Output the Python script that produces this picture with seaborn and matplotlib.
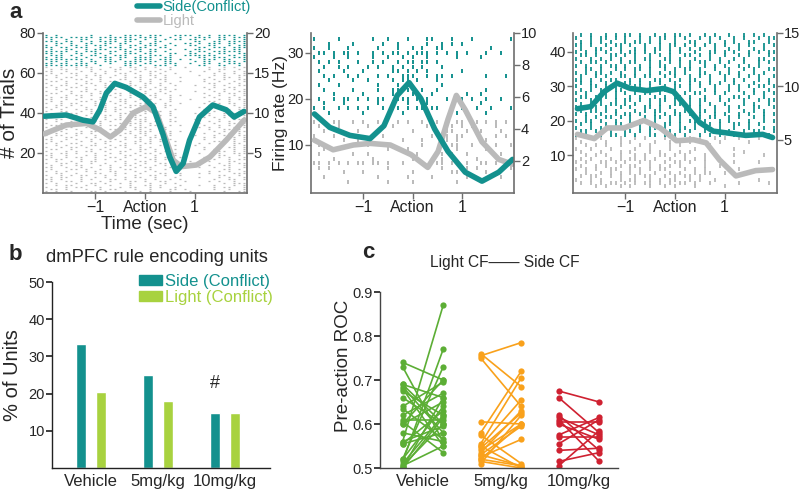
import numpy as np
import pandas as pd
import seaborn as sns
import matplotlib.pyplot as plt
from matplotlib.lines import Line2D
from matplotlib.patches import Patch

sns.set_theme(style="ticks")
plt.rcParams['font.family'] = ['Liberation Sans', 'DejaVu Sans']

TEAL = "#13918e"
LIME = "#a8d23f"
GRAY = "#bababa"
AX_GRAY = "#6e6e6e"

# ---------------- panel a data ----------------
# firing-rate curves (time in sec, rate in Hz)
a1_side_t = [-2.03, -1.59, -1.25, -1.05, -0.91, -0.78, -0.61, -0.38, -0.04, 0.16, 0.36, 0.50, 0.63, 0.77, 0.90, 1.10, 1.37, 1.64, 1.80, 2.00]
a1_side_hz = [9.6, 9.75, 9.1, 8.9, 10.4, 12.5, 13.7, 13.2, 12.0, 10.8, 7.4, 4.5, 2.7, 3.7, 6.6, 9.5, 11.0, 10.4, 9.5, 10.2]
a1_light_t = [-2.03, -1.59, -1.18, -0.91, -0.70, -0.50, -0.24, 0.03, 0.23, 0.43, 0.57, 0.74, 1.04, 1.31, 1.64, 2.00]
a1_light_hz = [7.4, 8.5, 8.7, 7.9, 7.0, 7.9, 10.0, 10.8, 10.0, 6.6, 4.1, 3.3, 3.5, 4.5, 6.6, 9.1]

a2_side_t = [-1.99, -1.68, -1.27, -0.86, -0.58, -0.31, -0.07, 0.17, 0.45, 0.72, 1.07, 1.41, 1.75, 2.03]
a2_side_hz = [4.94, 4.1, 3.6, 3.4, 4.2, 6.1, 6.9, 5.9, 4.0, 2.6, 1.3, 0.74, 1.3, 2.1]
a2_light_t = [-1.99, -1.61, -1.20, -0.86, -0.45, -0.03, 0.31, 0.52, 0.72, 0.89, 1.07, 1.41, 1.75, 2.03]
a2_light_hz = [3.3, 2.7, 3.0, 3.1, 3.0, 2.4, 1.6, 2.6, 4.6, 6.1, 5.2, 3.2, 2.1, 1.8]

a3_side_t = [-1.97, -1.70, -1.43, -1.17, -0.90, -0.57, -0.23, -0.03, 0.23, 0.50, 0.77, 1.10, 1.43, 1.77, 1.97]
a3_side_hz = [7.9, 8.1, 9.5, 10.3, 9.8, 9.6, 9.8, 9.5, 8.1, 6.6, 5.8, 5.6, 5.4, 5.5, 5.2]
a3_light_t = [-1.97, -1.63, -1.37, -1.03, -0.63, -0.30, 0.03, 0.37, 0.63, 0.90, 1.23, 1.63, 1.97]
a3_light_hz = [5.5, 5.1, 6.1, 6.1, 6.8, 6.1, 4.9, 5.0, 4.7, 3.1, 1.6, 2.1, 2.2]

# spike rasters: one string per trial (bottom trial first), 0.1 s bins from -2 to 2, '|' = spike
a1_light_rows = [
    "|.|..|...||.|...|..|.|...|...|......|..||",
    ".||.|...|..|.||...|..|...||.|.....|..|..|",
    "|...|.||...|...|.||..|.|..|.......|.||..|",
    "..|.||..|.|..|...|..||.|...|...|..|...|.|",
    "|.|...|..||.|..|.|...|..|.|.........|.|||",
    ".|..||.|...|.|...||.|..||...|....|.|..|..",
    "||.|...|.|...||.|...|.|..|.|......|..||.|",
    ".|.||..|..|.|...|.||..|...|....|...|.|..|",
    "|..|.|.||...|.|...|..||.|..|.......||..|.",
    "..||..|...||..|.|..|...||..|...|.|....|||",
    "|.|.|...|.|..||...|.|.|...|......|.|.|..|",
    ".|...||.|..|.|..||...|..|.||........||.|.",
    "||..|..|.|...|.|..|.||...|.....|..|..|..|",
    ".|.|..||...|.|..||.|..|.|......|.|..||..|",
    "|..||.|..|..|...|.|.|..||..|.......|.|.||",
    "..|..|.|.||...|.|..||.|...|..|...|...||..",
    "|.||...|..|.|..|..|..||.|.........|..|.||",
    ".|..|.||..|..||.|...|.|.|..|....|..|.|..|",
    "||..|...|.|.|...||.|..|...|......|.||..|.",
    ".|.||.|...|..|.|..|.||.|..|....|...|..|||",
    "|...|.|.||..|..||..|..|.|...|......||.|.|",
    ".||..|...|.|.|...|.||.|..||.....|.|...|.|",
    "|..|.||.|...|.|.|..|.|..|.......|..|.||.|",
    "..|.|..|.||..|.||..|...||.|...|....|..|.|",
    "|.|..||...|.|...|.|.||..|......|.|..|.||.",
    ".|.|...|.|..||.|..||.|.|..|.......||..|.|",
    "||..|.|..|.|..|.|..|.|.|.|...|..|...|.|.|",
    ".|..||..|.|..|..|.||.||.|.......|.|..||.|",
    "|.||..|...|.|.||..|.|.|..|....|...|.|..||",
    "..|.|.||.|..|...||.||..|.|......|..|.|.|.",
    "|..|...|.||.|.|..|.|||.|.|.|......|.|..||",
    ".|.||.|...|..||.|.||.|..|.....|..|..||.|.",
    "|.|..|..||.|...||.|||..||......|.|.|..|.|",
    ".||.|..|...|.||..|.|.||..|.|....|..|.|..|",
    "|..|.||..|.|...|.|||.|.|.......|..|..||.|",
    "..|..|.|..||.|..||.||.|..||......|.|.|..|",
    "|.||...|.|..|.||..|||..|.|....|....|..|||",
    ".|..|.|..||.|..|.||.|.|...|.....|.|.|.|.|",
    "||.|..|.|...||.|.|||..||.|.......|..||..|",
    ".|.|.||..|.|...||.|.|.|..|....|..|..|.|.|",
    "|..||..|.|..|.|..||.||.|.|......|.|.|..||",
    ".|.|..|.||..|.||..|||.|...|.....|...||.|.",
    "|.|.|...|..||.|.||.|.||.|......|..|.|..||",
    "..||.|.|..|.|..|.|||.|..||.......|.|..|.|",
    "|..|.||...|.|.|.|..||.|.|..|....|..|.||.|",
    ".|.|...||.|..|.||.|.||...|.......||..|..|",
    "||..|.|..|.|...||..|.|.|.|...|.....|.|.||",
    ".|.||..|...||.|..|.||.|..|......|.|..|.|.",
    "|...|.||.|...|.|.|.|.||..|.|.....|.|..|.|",
    ".||..|...|.|..||.|..|.|.|.......|..|.||.|",
    "|..|.|.||..|.|...||.|..|.|....|...|.|..||",
    "..|.|...|.|..||.|..|.|.||.|......|..|.|.|",
    "|.|..||.|...|..|.|.||.|.|.......|.|..||..",
    ".|.||..|..|.|.|..||.|..|..|...|...|.|..||",
    "|...|.|.||..|..|.|..||.|.|.......||..|.|.",
    ".||.|...|..|.||..|.|.|..|..|....|..|..|.|",
    "|..|..||.|.|...||..|.|.||.......|.|.|..||",
    "..|.||..|..|.|..|.||..|.|..|.....|..||.|.",
    "|.|...|.|.||..|.|..|.||.|......|..|.|..||",
    ".|.|.||...|.|..||.|..|.|..|.......|.|.|.|",
    "||..|..|.|..|.|..|.|.||.|....|..|..|..|.|",
    ".|.||.|..|.|..||..|.|..|.|.......|.||..|.",
    "|..|..|.||...|.|.||.|.|..|..|....|..|.|.|",
]
a1_side_rows = [
    "|||||||||..|....||.|..|||.|....||..||..|.",
    "||.||.|||.|..|..|||.||..|||..|..||.|.|||.",
    ".||.|..|.||.|||.||||.||.||....|.||..|||.|",
    "||||||||.|..||.|..||||.|||.|.|..|||.||..|",
    "|.||..|.|..|||.||.||||..||.....||.|||.|||",
    ".|||.|.|.||.|.|||..|.|||.|..|||||||..||.|",
    "||.|..||..||.|..|||.||...||..||..|.||..||",
    "|||||.|.|||..||.||.|.||.|....|.||.||||||.",
    ".|..||..|.|||..||.||.||..|..|.||.|..|.||.",
    "||.||.|||..|.|||.|.||..||......||.|||.|||",
    "|.|..||.|.|||..|.||.|||.|.|..||..||..|.||",
    "..||.|..||..||.||..|.||..|..||.|.|||.||.|",
    "|||.||.|.|.||||.||.|..||......||..||.||||",
    ".|..|..||..|.||.|||.|.|.|.||.||.|..||.|.|",
    "||||.|||||.|||||||.||||..|.|..||||.||.|||",
    "|.|......|...|..||||.|||..||||.|.|.||||.|",
]
a2_light_rows = [
    ".......|.......|....|........|...........",
    "..|..........|.....|....|......|......|..",
    "......|...|.........|.......||.....|.....",
    ".|.|...........|..........|....|.|......|",
    "||.|.|.|.||.||.|..|...|..||.|..|..||.|..",
    "....|.......|.......|.....|......|.......",
    ".|......|..|.........|...||.|..|......|..",
    "..|..|.........|...|.......|.|.....|.....",
    ".|.........|...|......|.....||..|....|..|",
    "......|..|........|...|....|.|.....|.....",
    "|...|.........|.........|..|.||......|.|.",
    "..|......|...|......|......||..|..|...|..",
    ".|...|.....|....|......|....|.|.|....|...",
    "|.|.||..|.|..|...|.|..|.||...||.||.|.|.|.",
]
a2_side_rows = [
    "...|......|.......|..........|.....|.....",
    "|.|..|.|.|.|..|.||.|.||.||..|.|..|..|...|",
    "..|...|......|.....|...|..........|......",
    ".|..|.||.|.|.||..|||.|.|...|..|.|..|..|..",
    "....|.....|.....|...|...|......|..|......",
    "..|.....|....|..||.|..|..|.........|.....",
    ".|...|.......|...|.|......|..............",
    "...|....|..|....|.||.|...|...............",
    "..|.|..|.|...|.|..|||..|.||.|......|...|.",
    ".|....|...|.....||.|.|.|......|.........",
    "..|..|.|...|.|..|.|.|.|...|..............",
    ".|.|.|...|..|.|..|.||.||.|...............|",
    "|...|..|....|..|..|.|..|.....|....|......",
    ".||.|.||.|..|.|.||.|.|||.|.|.|.|...|..|..",
    "|..|...|.....|...|..|.|..||.........|....",
    "...|....|.....|..|.....|..|.|.|.........",
    "|....|......|..|...|...||...|...|.......||",
]
a3_light_rows = [
    "....|.|..|.|...|..|.|...|.....|.........",
    ".|.|.|.||.|.|.||.|.|.||.|..|.....|.....|.",
    "|..|.|...|.||..|.|.||..|.|..|........|...",
    ".|.||..|.|..|.||..|.|.||.|...............",
    "..|..|.|.|.|.|..|..|.|..|.||..|....|.....",
    "|.|.|..||..|.|.|.||...|.|.|......|.......",
    ".|..|.|..|.||..|.|.|.|....|..|...........",
    "|.|..||.|.|..|.|..|.||.|..|.....|....|...",
    ".|.|...|.|.||.|.|..|..|.|.|..|...........",
    "..|.|.|..|..|.|..||.|.|...|.....|.....|..",
    ".|...|...|.|...|.|...|.|..........|......",
    "|..|...|....|..|...|....|..|....|........",
    "..|.|.|..|...|.|...|.|.....|.............",
    ".|....|..|.|....|..|...|.|...|.....|.....",
    "|..|.|...|..|.|...|.|..|.|..|.|..|...|...",
]
a3_side_rows = [
    "|.|..|.||.|.|..||.|.|.|..|.|.|..|.|.|..|.",
    ".||.|..|..||.|.|..||.|.|..|..|.|..|.||..|",
    "|..|.||.|.|..|.||.|..||.|.|..|..|..|..|.|",
    ".|.|..|.||.|.|..|.||.|..|..|.|..||.|.|...",
    "|.||.|..|..|.||.|..|.|.||.|..|.|...|..|.|",
    "..|.|.||.|.|..|.||.|.|...|.||..|.|..|.|..",
    "|.|..|..|.||.|..|.|.||.|.|..|.|..|.|..|.|",
    ".|.||.|.|...|.|.||..|.|..||.|..|..|.|.|..",
    "||..|.|..|.|..||.|.|..||.|..|..|.|..||..|",
    ".|.|.|.||.|.|..|.|..||.|.|.|..|...|.|..|.",
    "|..|.|..|.||.|.|.||.|..|.||..|.|..|..|.||",
    ".||.|.|.|..|.|..|.|.||.|..|..|..||.|..|..",
    "|.|..||.|.|.|.||.|..|.|.||..|.|...|.|.|.|",
    ".|.|.|..||..|..|.||.|..|..|.|..|.|..|..|.",
    "|..||.|.|.|.||.|..|.||.|.|..|..|.|.|.||.|",
    ".|.|..|.|.||.|.|.|..|..|.|.|.|..|...|..|.",
    "||.|.|.||..|.|..||.|.|.||..|..|.|.|..|.|.",
    ".|..|.|..||.|.||..|.|..|.|.|..|..|.|.|..|",
    "|.|.||.|.|..|..|.|.||.|..||..|.|.|..|.|..",
    "..||.|..|.|.||.|..|.|.||.|..|..|..|.|..||",
    "|.|..|.||.|..|.|.||..|.|..|.|.|..|.|.|...",
    ".|.||.|..|.||..|.|.|.|.|.||..|.|..|..|.|.",
    "|..|.|.|.|..|.||..||.|..|..|.|..|.|..||.|",
    ".||.|..||.|.|..|.|.|..||.|.|..|..|.|...|.",
    "|.|.|.|..|.||.|.|..|.|..|..||.|.|..|.|.||",
    ".|..||.|.|..|.|.||.|.|.|.|..|..|.|..|.|..",
    "||.|..|.||.|..|..|.||.|.|.|.|.|..|.|..|.|",
    ".|.|.|.|..|.||.|.|..|..||..|..|.|..||..|.",
    "|..|.||.|.|..|.|.||.|.|..|.|.|..|.|..|.||",
    ".|.|..|.|.||.|..|.|.||.|..|.|..|..|.|.|..",
]

# ---------------- panel b data ----------------
b_doses = ["Vehicle", "5mg/kg", "10mg/kg"]
b_side = [33.3, 25.0, 14.8]
b_light = [20.5, 18.0, 14.8]

# ---------------- panel c data ----------------
c_doses = ["Vehicle", "5mg/kg", "10mg/kg"]
veh_light = [0.74, 0.73, 0.69, 0.685, 0.68, 0.675, 0.66, 0.64, 0.635, 0.62, 0.61, 0.605, 0.60, 0.60,
             0.56, 0.555, 0.56, 0.555, 0.52, 0.515, 0.51, 0.505, 0.50, 0.50, 0.505, 0.69, 0.58, 0.52]
veh_side = [0.70, 0.56, 0.66, 0.58, 0.55, 0.62, 0.60, 0.695, 0.565, 0.67, 0.61, 0.535, 0.65, 0.70,
            0.87, 0.63, 0.595, 0.58, 0.73, 0.77, 0.62, 0.60, 0.66, 0.615, 0.55, 0.60, 0.56, 0.64]
mg5_light = [0.755, 0.76, 0.75, 0.605, 0.58, 0.575, 0.555, 0.55, 0.545, 0.54, 0.535, 0.53, 0.525,
             0.52, 0.515, 0.51, 0.52, 0.53, 0.55]
mg5_side = [0.785, 0.685, 0.64, 0.60, 0.72, 0.51, 0.705, 0.655, 0.625, 0.60, 0.63, 0.595, 0.565,
            0.505, 0.50, 0.62, 0.60, 0.505, 0.50]
mg10_light = [0.675, 0.66, 0.62, 0.615, 0.61, 0.605, 0.60, 0.575, 0.57, 0.555, 0.54, 0.515, 0.505]
mg10_side = [0.65, 0.58, 0.54, 0.575, 0.515, 0.605, 0.565, 0.615, 0.57, 0.61, 0.545, 0.535, 0.585]
c_colors = ["#5cae35", "#f9a11b", "#cf2131"]


def raster_df(rows, first_trial):
    ts, ys = [], []
    for k, row in enumerate(rows):
        for i, ch in enumerate(row):
            if ch == "|":
                ts.append(-2.0 + 0.1 * i)
                ys.append(first_trial + k)
    return pd.DataFrame({"t": ts, "trial": ys})


def style_spines(ax, color):
    ax.spines["top"].set_visible(False)
    for side in ["left", "bottom", "right"]:
        ax.spines[side].set_color(color)
        ax.spines[side].set_linewidth(1.2)


fig = plt.figure(figsize=(8, 4.9), dpi=100)


def raster_panel(rect, light_rows, light_start, side_rows, side_start, ylim_l, yticks_l,
                 ylim_r, yticks_r, light_curve, side_curve, marker, msize, mlw):
    ax = fig.add_axes(rect)
    g = raster_df(light_rows, light_start)
    s = raster_df(side_rows, side_start)
    sns.scatterplot(data=g, x="t", y="trial", ax=ax, color=GRAY, marker=marker, s=msize, linewidth=mlw)
    sns.scatterplot(data=s, x="t", y="trial", ax=ax, color=TEAL, marker=marker, s=msize, linewidth=mlw)
    ax.set_xlim(-2.06, 2.06)
    ax.set_ylim(*ylim_l)
    ax.set_yticks(yticks_l)
    ax.set_xticks([-1, 0, 1], ["\u22121", "Action", "1"])
    ax.set_xlabel("")
    ax.set_ylabel("")
    style_spines(ax, AX_GRAY)
    ax.spines["right"].set_visible(False)

    ax2 = ax.twinx()
    sns.lineplot(x=light_curve[0], y=light_curve[1], ax=ax2, color=GRAY, lw=4, solid_capstyle="round")
    sns.lineplot(x=side_curve[0], y=side_curve[1], ax=ax2, color=TEAL, lw=4, solid_capstyle="round")
    ax2.set_ylim(*ylim_r)
    ax2.set_yticks(yticks_r)
    style_spines(ax2, AX_GRAY)
    ax2.spines["left"].set_visible(False)
    ax2.spines["bottom"].set_visible(False)
    for a in (ax, ax2):
        a.tick_params(direction="out", length=4, width=1, color=AX_GRAY, labelsize=10.5, pad=1,
                      labelcolor="#222222")
        a.tick_params(axis="x", labelsize=11.5)
    return ax, ax2


ax1, ax1r = raster_panel([43 / 800, 297 / 490, 204 / 800, 160 / 490],
                         a1_light_rows, 1, a1_side_rows, 64, (0, 80), [20, 40, 60, 80],
                         (0, 20), [5, 10, 15, 20], (a1_light_t, a1_light_hz), (a1_side_t, a1_side_hz),
                         "_", 4, 0.9)
ax1.set_ylabel("# of Trials", fontsize=15, ha="center", va="center")
ax1.yaxis.set_label_coords((10 - 43) / 204, 0.5)
ax1.set_xlabel("Time (sec)", fontsize=13.5, labelpad=1)
ax1r.set_ylabel("Firing rate (Hz)", fontsize=12.5, ha="center", va="center")
ax1r.yaxis.set_label_coords((280 - 43) / 204, 0.5)

ax2, ax2r = raster_panel([311 / 800, 297 / 490, 203 / 800, 160 / 490],
                         a2_light_rows, 2, a2_side_rows, 17, (-0.5, 34.3), [10, 20, 30],
                         (0, 10), [2, 4, 6, 8, 10], (a2_light_t, a2_light_hz), (a2_side_t, a2_side_hz),
                         "|", 10, 1.4)

ax3, ax3r = raster_panel([573 / 800, 297 / 490, 204 / 800, 160 / 490],
                         a3_light_rows, 1, a3_side_rows, 16, (-0.9, 45.5), [10, 20, 30, 40],
                         (0, 15), [5, 10, 15], (a3_light_t, a3_light_hz), (a3_side_t, a3_side_hz),
                         "|", 6, 1.3)

fig.legend(handles=[Line2D([], [], color=TEAL, lw=4), Line2D([], [], color=GRAY, lw=4)],
           labels=["Side(Conflict)", "Light"], loc="upper left",
           bbox_to_anchor=(137 / 800, 1.0), frameon=False, fontsize=10.5,
           handlelength=1.6, handletextpad=0.15, labelspacing=0.0,
           labelcolor=[TEAL, GRAY], borderpad=0, borderaxespad=0)

# ---------------- panel b ----------------
axb = fig.add_axes([52 / 800, 22 / 490, 218 / 800, 186 / 490])
df_b = pd.DataFrame({
    "dose": b_doses * 2,
    "rule": ["Side (Conflict)"] * 3 + ["Light (Conflict)"] * 3,
    "pct": b_side + b_light,
})
sns.barplot(data=df_b, x="dose", y="pct", hue="rule", palette=[TEAL, LIME], width=0.6, gap=0.5,
            ax=axb, legend=False, saturation=1)
axb.set_xlim(-0.585, 2.68)
axb.set_ylim(0, 50)
axb.set_yticks([10, 20, 30, 40, 50])
axb.set_xlabel("")
axb.set_ylabel("% of Units", fontsize=14.5, ha="center", va="center")
axb.yaxis.set_label_coords((13 - 52) / 218, 0.5)
axb.spines[["top", "right"]].set_visible(False)
for side in ["left", "bottom"]:
    axb.spines[side].set_color("#222222")
    axb.spines[side].set_linewidth(1)
axb.tick_params(axis="y", direction="out", length=4, labelsize=10.5, pad=1)
axb.tick_params(axis="x", length=0, labelsize=12, pad=4)
axb.text(1.85, 22.8, "#", fontsize=13, ha="center", va="center")
axb.legend(handles=[Patch(color=TEAL), Patch(color=LIME)],
           labels=["Side (Conflict)", "Light (Conflict)"], loc="upper left",
           bbox_to_anchor=(139 / 800, 1 - 274 / 490), bbox_transform=fig.transFigure,
           frameon=False, fontsize=12, handlelength=1.4, handleheight=0.55, handletextpad=0.15,
           labelspacing=0.05, labelcolor=[TEAL, LIME], borderpad=0, borderaxespad=0)
fig.text(157 / 800, 1 - 258 / 490, "dmPFC rule encoding units", fontsize=13.2, ha="center", va="center")

# ---------------- panel c ----------------
axc = fig.add_axes([380 / 800, 22 / 490, 238 / 800, 176 / 490])
pairs = [(veh_light, veh_side), (mg5_light, mg5_side), (mg10_light, mg10_side)]
records = []
pid = 0
for g, (lt, sd) in enumerate(pairs):
    for a, b in zip(lt, sd):
        records.append({"dose": c_doses[g], "pair": pid, "x": g - 0.26, "roc": a})
        records.append({"dose": c_doses[g], "pair": pid, "x": g + 0.26, "roc": b})
        pid += 1
df_c = pd.DataFrame(records)
sns.lineplot(data=df_c, x="x", y="roc", hue="dose", units="pair", estimator=None,
             palette=c_colors, marker="o", markersize=4.5, markeredgewidth=0, linewidth=1.2,
             legend=False, sort=False, ax=axc)
axc.set_xlim(-0.55, 2.5)
axc.set_ylim(0.5, 0.9)
axc.set_yticks([0.5, 0.6, 0.7, 0.8, 0.9])
axc.set_xticks([0, 1, 2], c_doses)
axc.set_xlabel("")
axc.set_ylabel("Pre-action ROC", fontsize=13.5, ha="center", va="center")
axc.yaxis.set_label_coords((344 - 380) / 238, 0.58)
axc.spines[["top", "right"]].set_visible(False)
for side in ["left", "bottom"]:
    axc.spines[side].set_color("#444444")
    axc.spines[side].set_linewidth(1)
axc.tick_params(axis="y", direction="out", length=4, labelsize=10.5, pad=1)
axc.tick_params(axis="x", length=0, labelsize=12, pad=4)
fig.text(505 / 800, 1 - 262 / 490, "Light CF\u2014\u2014 Side CF", fontsize=11.2, ha="center", va="center")

# panel letters
fig.text(9 / 800, 1 - 13 / 490, "a", fontsize=16, fontweight="bold", va="center")
fig.text(9 / 800, 1 - 254 / 490, "b", fontsize=16, fontweight="bold", va="center")
fig.text(362 / 800, 1 - 253 / 490, "c", fontsize=16, fontweight="bold", va="center")

fig.savefig("out.png", dpi=100)
